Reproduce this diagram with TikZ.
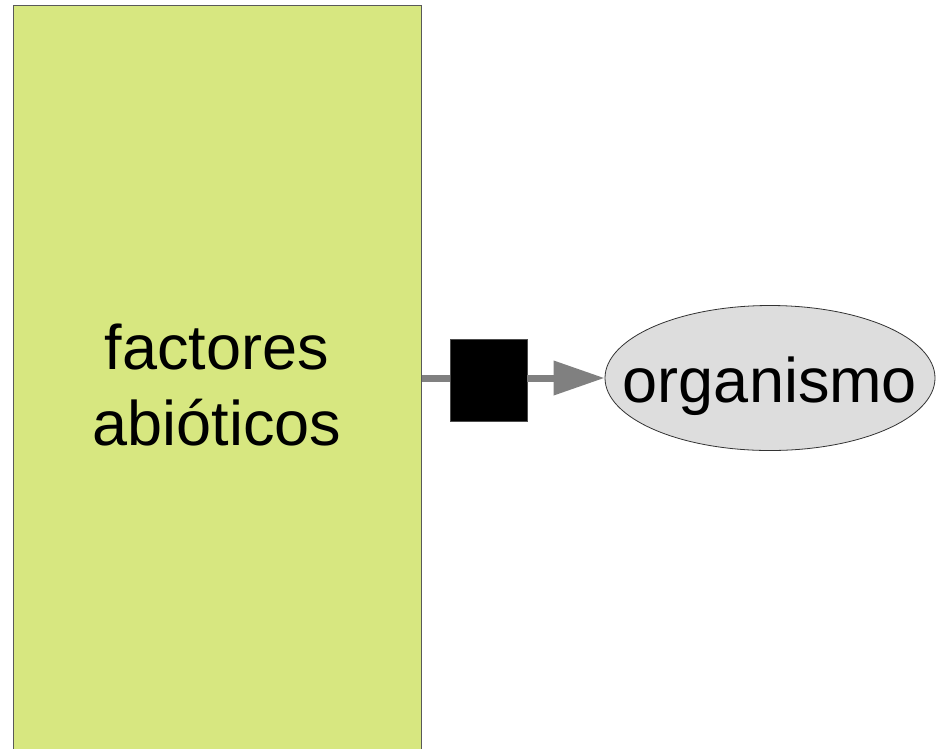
\documentclass[tikz,border=0pt]{standalone}
\usepackage{fontspec}
\setmainfont{Liberation Sans}
\usetikzlibrary{arrows.meta,shapes.geometric,positioning}
\definecolor{abiogreen}{HTML}{D7E780}
\definecolor{orggray}{HTML}{DDDDDD}
\definecolor{flowgray}{HTML}{808080}
\tikzset{
  factor/.style={draw=black!65,fill=abiogreen,line width=1pt,minimum width=408pt,minimum height=760pt,align=center,inner sep=0pt},
  organ/.style={ellipse,draw=black!80,fill=orggray,line width=0.8pt,minimum width=330pt,minimum height=145pt,inner xsep=-40pt,inner ysep=0pt,text height=60pt,text depth=12pt},
  blocker/.style={draw=black!70,fill=black,minimum width=77pt,minimum height=82pt,inner sep=0pt},
  flow/.style={draw=flowgray,line width=7pt}
}
\begin{document}
\begin{tikzpicture}[x=1pt,y=-1pt,font=\fontsize{63}{76}\selectfont]
  \useasboundingbox (0,0) rectangle (936,748);
  \clip (0,0) rectangle (936,748);
  \node[factor] (abio) at (217,385) {factores\\abióticos};
  \node[organ]  (org)  at (770,378) {organismo};
  \node[blocker] (sq)  at (488.5,380) {};

  \draw[flow] (abio.east |- org.west) -- (sq.west |- org.west);
  \draw[flow,-{Triangle[length=51pt,width=33pt]}] (sq.east |- org.west) -- (org.west);
\end{tikzpicture}
\end{document}
